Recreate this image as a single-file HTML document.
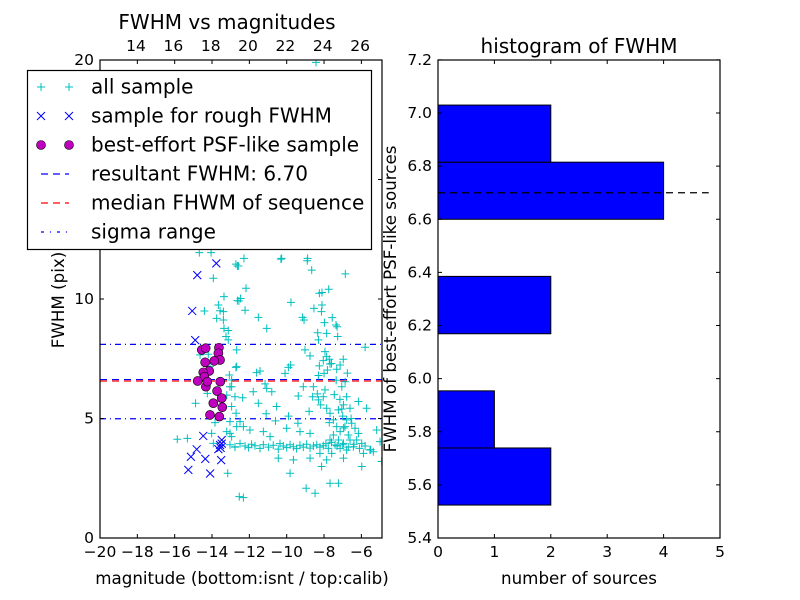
<!DOCTYPE html>
<html><head><meta charset="utf-8">
<style>
html,body{margin:0;padding:0;background:#fff;}
svg{display:block;font-family:"DejaVu Sans","Liberation Sans",sans-serif;}
</style></head>
<body>
<svg id="chart" width="800" height="600" viewBox="0 0 800 600" xmlns="http://www.w3.org/2000/svg">
<rect x="0" y="0" width="800" height="600" fill="#fff"/>
<g id="left"></g>
<g id="right"></g>
</svg>
<script>
// ---- scatter data (magnitude isnt, FWHM pix) ----
const allMag = [-12.29,-12.59,-10.31,-8.9,-8.66,-6.86,-12.18,-12.56,-12.47,-12.23,-9.77,-8.25,-8.11,-7.75,-8.54,-8.11,-8.14,-11.52,-11.07,-9.15,-9.07,-7.98,-7.56,-7.36,-7.3,-8.34,-7.86,-8.3,-7.27,-5.8,-9.02,-8.75,-7.95,-7.86,-7.72,-8.04,-7.68,-8.25,-7.82,-8.0,-6.97,-7.14,-7.32,-9.79,-9.91,-10.09,-12.72,-11.43,-11.61,-11.07,-10.8,-11.79,-11.16,-9.38,-9.11,-11.52,-10.54,-12.36,-8.57,-8.36,-8.61,-8.3,-8.04,-8.18,-7.86,-7.68,-7.5,-7.72,-7.23,-6.96,-6.79,-7.05,-6.87,-6.61,-6.16,-5.72,-7.32,-7.14,-6.88,-6.7,-7.5,-7.68,-7.23,-6.96,-6.61,-6.79,-6.52,-6.34,-6.16,-6.25,-5.98,-6.43,-7.14,-7.59,-7.77,-7.41,-8.22,-7.86,-8.13,-6.96,-6.79,-5.89,-5.54,-5.98,-5.18,-5.0,-5.36,-4.91,-10.45,-9.64,-8.75,-9.82,-8.96,-8.48,-7.68,-7.23,-12.32,-12.5,-12.32,-11.97,-11.25,-10.89,-10.0,-9.29,-8.75,-12.68,-13.04,-13.04,-12.77,-12.95,-14.68,-14.05,-12.64,-13.93,-13.36,-12.64,-13.66,-13.57,-13.39,-13.75,-13.39,-13.36,-13.13,-13.25,-14.41,-13.13,-12.68,-14.64,-14.2,-14.11,-12.68,-13.07,-12.95,-13.21,-12.95,-12.71,-14.25,-14.88,-15.86,-15.32,-14.02,-13.84,-13.21,-12.95,-12.77,-13.04,-13.93,-13.16,-12.54,-8.43,-10.27,-8.88,-12.72,
-13.04,-12.77,-12.5,-12.23,-12.05,-11.88,-11.7,-11.43,-11.25,-10.98,-10.72,-10.45,-10.36,-10.18,-10.0,-9.82,-9.64,-9.47,-9.29,-9.11,-8.93,-8.75,-8.57,-8.39,-8.22,-8.04,-7.9,-7.6,-7.3,-7.0,-6.7,-6.4,-6.1,-5.8,-5.5,-11.1,-10.6,-9.9,-9.4,-8.8,-8.3,-7.95,-7.45,-7.05,-6.55,-6.95,-7.15,-7.35,-6.75,-7.6,-7.0];
const allFwhm = [11.7,11.38,11.67,11.6,11.21,11.05,10.45,9.92,10.02,9.53,9.86,10.24,10.27,10.41,9.61,9.75,9.47,9.23,8.77,9.23,9.12,9.01,9.22,8.91,8.84,8.59,8.56,8.29,8.43,7.98,7.87,7.62,7.8,7.59,7.48,7.42,7.28,7.2,7.03,6.89,7.48,7.24,7.06,7.24,7.14,6.89,7.14,6.99,6.92,6.26,6.12,6.12,6.45,5.94,6.33,5.64,5.5,5.87,6.33,6.03,5.91,5.78,5.91,5.57,5.43,5.22,4.94,4.83,5.36,5.57,5.91,6.33,6.54,5.43,5.71,5.43,4.66,4.45,4.66,4.31,4.31,4.1,4.1,3.96,4.1,4.94,4.8,4.59,4.38,4.1,3.96,3.82,3.75,3.54,3.75,3.89,3.54,3.27,2.99,3.34,3.68,3.54,3.68,2.99,4.52,4.03,3.61,3.2,3.34,3.27,3.34,2.71,2.08,1.87,2.29,2.29,1.69,4.87,4.66,4.52,4.45,4.24,4.59,4.45,4.38,4.66,4.38,6.33,5.91,6.61,11.94,11.94,11.38,10.87,10.1,9.93,9.75,9.51,9.47,9.19,9.12,8.77,8.68,8.43,9.5,8.29,7.87,7.66,7.69,7.17,7.17,6.82,6.33,5.98,5.5,5.22,6.05,5.64,4.13,4.17,4.38,4.83,4.45,4.24,3.8,4.87,3.96,2.71,1.73,19.9,11.7,11.7,11.46,
3.9,3.82,3.95,3.85,3.78,3.92,3.86,3.75,3.9,3.8,3.88,3.72,3.95,3.85,3.78,3.9,3.82,3.74,3.88,3.8,3.92,3.76,3.85,3.9,3.8,3.86,3.95,4.0,3.85,3.9,3.8,3.92,3.75,3.85,3.7,5.2,4.9,5.1,4.8,5.3,6.8,6.2,6.0,5.4,5.0,4.6,5.8,6.6,6.9,7.3,5.1];
const roughMag = [-13.77,-14.79,-15.06,-14.9,-14.47,-14.82,-15.13,-14.36,-13.48,-13.57,-13.54,-13.66,-13.48,-13.51,-15.27,-14.1];
const roughFwhm = [11.49,11.0,9.5,8.28,4.27,3.71,3.4,3.31,4.1,3.89,3.77,3.72,3.95,3.26,2.85,2.7];
const bestMag = [-14.55,-14.34,-13.63,-13.66,-13.57,-13.88,-14.37,-14.15,-14.47,-14.41,-14.77,-14.33,-13.56,-13.73,-13.48,-13.93,-13.45,-14.11,-13.61,-14.25];
const bestFwhm = [7.87,7.94,7.96,7.73,7.45,7.41,7.35,6.99,6.93,6.75,6.57,6.33,6.54,6.15,5.85,5.64,5.47,5.15,5.08,6.54];
const resultFwhm = 6.63, medianFwhm = 6.57, sigmaLow = 4.99, sigmaHigh = 8.10;
const xTicks = [-20,-18,-16,-14,-12,-10,-8,-6];
const yTicks = [0,5,10,15,20];
const topTicks = [14,16,18,20,22,24,26];
const calibOffset = 32.07;
// ---- histogram data ----
const binEdges = [5.524,5.739,5.954,6.169,6.385,6.600,6.815,7.030];
const binCounts = [2,1,0,2,0,4,2];
const histResult = 6.70, histLineEnd = 4.8;
const hxTicks = [0,1,2,3,4,5];
const hyTicks = [5.4,5.6,5.8,6.0,6.2,6.4,6.6,6.8,7.0,7.2];

const NS="http://www.w3.org/2000/svg";
function mk(parent,tag,attrs,text){const e=document.createElementNS(NS,tag);for(const k in attrs)e.setAttribute(k,attrs[k]);if(text!==undefined)e.textContent=text;parent.appendChild(e);return e;}
const L=document.getElementById('left'), R=document.getElementById('right');
const lx=m=>100+(m+20)*18.67, ly=f=>538-f*23.9;
const rx=c=>438+c*56.4, ry=v=>538-(v-5.4)*265.6;
const fmt=n=>(n<0?'\u2212':'')+Math.abs(n);

const defs=mk(document.getElementById('chart'),'defs',{});
const cp=mk(defs,'clipPath',{id:'lc'});mk(cp,'rect',{x:100,y:60,width:282,height:478});
const PL=mk(L,'g',{'clip-path':'url(#lc)'});
[[sigmaHigh,'#0000ff','6,4,1,4'],[sigmaLow,'#0000ff','6,4,1,4'],[resultFwhm,'#0000ff','7,5'],[medianFwhm,'#ff0000','7,5']].forEach((d,i)=>{
  const l=mk(PL,'line',{x1:100,x2:382,y1:ly(d[0]),y2:ly(d[0]),stroke:d[1],'stroke-width':1.2,'stroke-dasharray':d[2]});
  
  
});
allMag.forEach((m,i)=>{const x=lx(m),y=ly(allFwhm[i]);
  const p=mk(PL,'path',{d:`M${x-4} ${y}H${x+4}M${x} ${y-4}V${y+4}`,stroke:'#00bfbf','stroke-width':1});
  
  
});
roughMag.forEach((m,i)=>{const x=lx(m),y=ly(roughFwhm[i]);
  const p=mk(PL,'path',{d:`M${x-4} ${y-4}L${x+4} ${y+4}M${x-4} ${y+4}L${x+4} ${y-4}`,stroke:'#0000ff','stroke-width':1});
  
  
});
bestMag.forEach((m,i)=>{
  const c=mk(PL,'circle',{cx:lx(m),cy:ly(bestFwhm[i]),r:4.5,fill:'#bf00bf',stroke:'#000','stroke-width':0.6});
  
  
});
const lf=mk(L,'rect',{x:100,y:60,width:282,height:478,fill:'none',stroke:'#000','stroke-width':1.2});


xTicks.forEach(t=>{const x=lx(t);
  mk(L,'path',{d:`M${x} 538v-4M${x} 60v4`,stroke:'#000'});
  const tx=mk(L,'text',{x:x,y:557,'font-size':15.5,'text-anchor':'middle'},fmt(t));
  
  
});
yTicks.forEach(t=>{const y=ly(t);
  mk(L,'path',{d:`M100 ${y}h4M382 ${y}h-4`,stroke:'#000'});
  const tx=mk(L,'text',{x:94,y:y+5,'font-size':15.5,'text-anchor':'end'},fmt(t));
  
  
});
topTicks.forEach(t=>{const x=lx(t-calibOffset);
  const tx=mk(L,'text',{x:x,y:51,'font-size':15.5,'text-anchor':'middle'},String(t));
  
  
});
let e;
e=mk(L,'text',{x:227,y:29,'font-size':20,'text-anchor':'middle'},'FWHM vs magnitudes');


e=mk(L,'text',{x:242,y:584,'font-size':16.7,'text-anchor':'middle'},'magnitude (bottom:isnt / top:calib)');


e=mk(L,'text',{x:0,y:0,'font-size':16.7,'text-anchor':'middle',transform:'translate(64,300) rotate(-90)'},'FWHM (pix)');


const LG=mk(L,'g',{});


mk(LG,'rect',{x:27.5,y:70.5,width:344,height:179,fill:'#fff',stroke:'#000','stroke-width':1.2});
const labels=['all sample','sample for rough FWHM','best-effort PSF-like sample','resultant FWHM: 6.70','median FHWM of sequence','sigma range'];
labels.forEach((s,i)=>{const y=87+i*29;
  const g=mk(LG,'g',{});
  
  
  [41,69].forEach(x=>{
    if(i==0) mk(g,'path',{d:`M${x-4} ${y}H${x+4}M${x} ${y-4}V${y+4}`,stroke:'#00bfbf'});
    if(i==1) mk(g,'path',{d:`M${x-4} ${y-4}L${x+4} ${y+4}M${x-4} ${y+4}L${x+4} ${y-4}`,stroke:'#0000ff'});
    if(i==2) mk(g,'circle',{cx:x,cy:y,r:4.5,fill:'#bf00bf',stroke:'#000','stroke-width':0.6});
  });
  if(i==3) mk(g,'line',{x1:41,x2:69,y1:y,y2:y,stroke:'#0000ff','stroke-width':1.2,'stroke-dasharray':'7,5'});
  if(i==4) mk(g,'line',{x1:41,x2:69,y1:y,y2:y,stroke:'#ff0000','stroke-width':1.2,'stroke-dasharray':'7,5'});
  if(i==5) mk(g,'line',{x1:41,x2:69,y1:y,y2:y,stroke:'#0000ff','stroke-width':1.2,'stroke-dasharray':'3,6,1,6'});
  mk(g,'text',{x:91,y:y+6.5,'font-size':20},s);
});

binCounts.forEach((c,i)=>{ if(c<=0) return;
  const y1=ry(binEdges[i+1]), y0=ry(binEdges[i]);
  const b=mk(R,'rect',{x:rx(0),y:y1,width:rx(c)-rx(0),height:y0-y1,fill:'#0000ff',stroke:'#000','stroke-width':1});
  
  
});
e=mk(R,'line',{x1:rx(0),x2:rx(histLineEnd),y1:ry(histResult),y2:ry(histResult),stroke:'#000','stroke-width':1.2,'stroke-dasharray':'7,5'});


e=mk(R,'rect',{x:438,y:60,width:282,height:478,fill:'none',stroke:'#000','stroke-width':1.2});


hxTicks.forEach(t=>{const x=rx(t);
  mk(R,'path',{d:`M${x} 538v-4M${x} 60v4`,stroke:'#000'});
  const tx=mk(R,'text',{x:x,y:557,'font-size':15.5,'text-anchor':'middle'},String(t));
  
  
});
hyTicks.forEach(t=>{const y=ry(t);
  mk(R,'path',{d:`M438 ${y}h4M720 ${y}h-4`,stroke:'#000'});
  const tx=mk(R,'text',{x:432,y:y+5,'font-size':15.5,'text-anchor':'end'},t.toFixed(1));
  
  
});
e=mk(R,'text',{x:579,y:53,'font-size':20,'text-anchor':'middle'},'histogram of FWHM');


e=mk(R,'text',{x:579,y:584,'font-size':16.7,'text-anchor':'middle'},'number of sources');


e=mk(R,'text',{x:0,y:0,'font-size':16.7,'text-anchor':'middle',transform:'translate(396,299) rotate(-90)'},'FWHM of best-effort PSF-like sources');


</script>
</body></html>
